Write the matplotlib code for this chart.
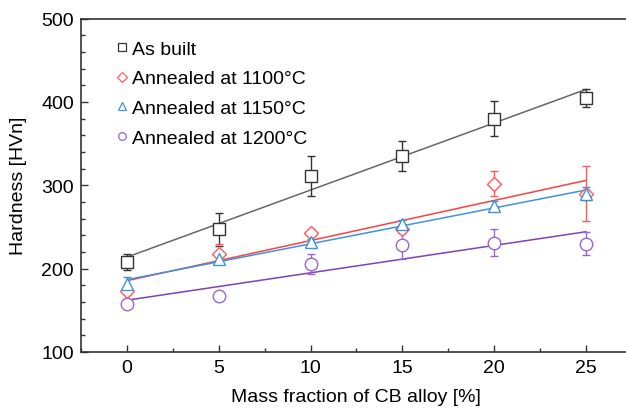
import numpy as np
import matplotlib
matplotlib.use("Agg")
import matplotlib.pyplot as plt
from matplotlib.ticker import MultipleLocator

plt.rcParams["font.family"] = ["Liberation Sans", "DejaVu Sans"]

# Mass fraction of CB alloy [%]
mass_fraction = [0, 5, 10, 15, 20, 25]

# Hardness values and error bars
as_built = [208, 247, 311, 335, 380, 405]
as_built_err = [10, 20, 24, 18, 21, 11]
ann_1100 = [173, 218, 243, 248, 302, 290]
ann_1100_err = [5, 11, 4, 5, 15, 33]
ann_1150 = [182, 211, 232, 253, 275, 290]
ann_1150_err = [8, 4, 4, 5, 6, 8]
ann_1200 = [158, 167, 205, 228, 231, 230]
ann_1200_err = [3, 4, 12, 16, 16, 14]

series = [
    ("As built", as_built, as_built_err, "s", "#333333", "#666666"),
    ("Annealed at 1100°C", ann_1100, ann_1100_err, "D", "#ff5a5a", "#ff4040"),
    ("Annealed at 1150°C", ann_1150, ann_1150_err, "^", "#3d93dd", "#3d93dd"),
    ("Annealed at 1200°C", ann_1200, ann_1200_err, "o", "#9a66cc", "#8040b8"),
]

fig = plt.figure(figsize=(6.26, 4.10), dpi=100)
ax = fig.add_axes([81 / 626, 57 / 410, 550.8 / 626, 333.5 / 410])

x = np.array(mass_fraction)
for label, vals, err, marker, color, lcolor in series:
    # linear fit drawn from 0 to 25
    k, b = np.polyfit(x, vals, 1)
    xf = np.array([x[0], x[-1]])
    ax.plot(xf, k * xf + b, color=lcolor, linewidth=1.1, zorder=2)
    ms = 9 if marker != "D" else 7.5
    ax.errorbar(x, vals, yerr=err, fmt=marker, markersize=ms,
                markerfacecolor="white", markeredgecolor=color,
                markeredgewidth=1.0, ecolor=color, elinewidth=1.0,
                capsize=3, capthick=1.0, zorder=3)
    ax.plot([], [], marker, markersize=5.5 if marker != "D" else 5,
            markerfacecolor="white", markeredgecolor=color,
            markeredgewidth=0.9, linestyle="none", label=label)

ax.set_xlim(-2.5, 27.5)
ax.set_ylim(100, 500)
ax.xaxis.set_major_locator(MultipleLocator(5))
ax.xaxis.set_minor_locator(MultipleLocator(2.5))
ax.yaxis.set_major_locator(MultipleLocator(100))
ax.yaxis.set_minor_locator(MultipleLocator(20))
ax.tick_params(which="both", direction="in", top=False, right=False,
               labelsize=14, color="#333333", pad=5)
ax.tick_params(which="major", length=5, width=1)
ax.tick_params(which="minor", length=3, width=1)
ax.spines["right"].set_visible(False)
for s in ["left", "bottom", "top"]:
    ax.spines[s].set_color("#333333")
    ax.spines[s].set_linewidth(1.2)

ax.set_xlabel("Mass fraction of CB alloy [%]", fontsize=14, labelpad=9)
ax.set_ylabel("Hardness [HVn]", fontsize=14, labelpad=10)

handles, labels = ax.get_legend_handles_labels()
ax.legend(handles, labels, loc="upper left", frameon=False, fontsize=14,
          handlelength=0.5, handletextpad=0.25, labelspacing=0.62,
          borderaxespad=0.2, bbox_to_anchor=(0.045, 0.97))

fig.savefig("out.png", dpi=100)
